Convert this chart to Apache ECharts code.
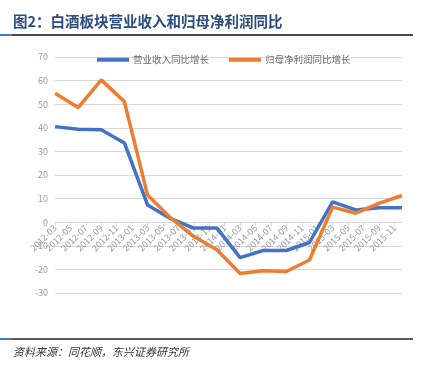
<!DOCTYPE html>
<html>
<head>
<meta charset="utf-8">
<script src="https://cdn.jsdelivr.net/npm/echarts@6/dist/echarts.min.js"></script>
<style>
	html, body { margin: 0; padding: 0; background: #fff; }
	#chart { width: 424px; height: 367px; }
</style>
</head>
<body>
<div id="chart"></div>
<script>
	// monthly ticks, labelled every second month
	var months = [
		'2012-03','2012-04','2012-05','2012-06','2012-07','2012-08','2012-09','2012-10','2012-11','2012-12',
		'2013-01','2013-02','2013-03','2013-04','2013-05','2013-06','2013-07','2013-08','2013-09','2013-10','2013-11','2013-12',
		'2014-01','2014-02','2014-03','2014-04','2014-05','2014-06','2014-07','2014-08','2014-09','2014-10','2014-11','2014-12',
		'2015-01','2015-02','2015-03','2015-04','2015-05','2015-06','2015-07','2015-08','2015-09','2015-10','2015-11','2015-12'
	];

	// quarterly data points
	var quarters = [
		'2012-03','2012-06','2012-09','2012-12',
		'2013-03','2013-06','2013-09','2013-12',
		'2014-03','2014-06','2014-09','2014-12',
		'2015-03','2015-06','2015-09','2015-12'
	];
	var revenueGrowth = [40.5, 39.4, 39.2, 33.6, 7.3, 1.5, -2.5, -2.5, -15.0, -12.0, -12.0, -8.6, 8.6, 5.2, 6.1, 6.1];
	var profitGrowth = [54.6, 48.6, 60.3, 51.1, 11.5, 1.8, -6.1, -11.7, -21.7, -20.6, -20.9, -16.0, 6.4, 3.8, 8.0, 11.3];

	var seriesNames = ['营业收入同比增长', '归母净利润同比增长'];

	var yMin = -30, yMax = 70;
	var gridTop = 57, gridBottom = 74, chartHeight = 367;

	function toPairs(values){
		var pairs = [];
		quarters.forEach(function(q, i){
			pairs.push([q, values[i]]);
		});
		return pairs;
	}

	// move the category axis up to the zero line
	var plotHeight = chartHeight - gridTop - gridBottom;
	var zeroOffset = -plotHeight * (0 - yMin) / (yMax - yMin);

	var chart = echarts.init(document.getElementById('chart'));

	var option = {
		animation: false,
		textStyle: { fontFamily: 'Noto Sans CJK SC' },
		title: {
			text: '图2：白酒板块营业收入和归母净利润同比',
			left: 8,
			top: 9,
			textStyle: {
				color: '#2b4c80',
				fontSize: 14.5,
				fontWeight: 'bold',
				fontFamily: 'Noto Sans CJK SC'
			}
		},
		graphic: [
			// title underline
			{ type: 'rect', shape: { x: 0, y: 34, width: 413, height: 2 }, style: { fill: '#4a4a4a' } },
			{ type: 'rect', shape: { x: 0, y: 34, width: 12, height: 2 }, style: { fill: '#3e7cc0' } },
			// footer line
			{ type: 'rect', shape: { x: 0, y: 338, width: 413, height: 2 }, style: { fill: '#5a5a5a' } },
			{ type: 'rect', shape: { x: 0, y: 338, width: 12, height: 2 }, style: { fill: '#3e7cc0' } },
			{
				type: 'text',
				left: 13,
				top: 346,
				style: {
					text: '资料来源：同花顺，东兴证券研究所',
					fill: '#333',
					fontSize: 11,
					fontStyle: 'italic',
					fontFamily: 'Noto Sans CJK SC'
				}
			}
		],
		legend: {
			data: seriesNames,
			left: 92,
			top: 50,
			icon: 'rect',
			itemWidth: 32,
			itemHeight: 4,
			itemGap: 20,
			textStyle: { color: '#6b6b6b', fontSize: 9.5, padding: [0, 0, 0, -1] }
		},
		grid: {
			left: 55,
			right: 22,
			top: gridTop,
			bottom: gridBottom
		},
		xAxis: {
			type: 'category',
			data: months,
			boundaryGap: false,
			offset: zeroOffset,
			axisLine: { onZero: false, lineStyle: { color: '#d9d9d9' } },
			axisTick: { show: true, interval: 1, length: 4, lineStyle: { color: '#d9d9d9' } },
			axisLabel: {
				interval: 1,
				rotate: 45,
				color: '#9a9a9a',
				fontSize: 9,
				margin: 4
			},
			splitLine: { show: false }
		},
		yAxis: {
			type: 'value',
			min: yMin,
			max: yMax,
			interval: 10,
			axisLine: { show: false },
			axisTick: { show: false },
			axisLabel: { color: '#9a9a9a', fontSize: 9, margin: 7 },
			splitLine: { lineStyle: { color: '#d9d9d9', width: 1 } }
		},
		series: [
			{
				name: seriesNames[0],
				type: 'line',
				data: toPairs(revenueGrowth),
				showSymbol: false,
				connectNulls: true,
				lineStyle: { color: '#4472c4', width: 3.5 },
				itemStyle: { color: '#4472c4' }
			},
			{
				name: seriesNames[1],
				type: 'line',
				data: toPairs(profitGrowth),
				showSymbol: false,
				connectNulls: true,
				lineStyle: { color: '#ed7d31', width: 3.5 },
				itemStyle: { color: '#ed7d31' }
			}
		]
	};

	chart.setOption(option);
</script>
</body>
</html>
